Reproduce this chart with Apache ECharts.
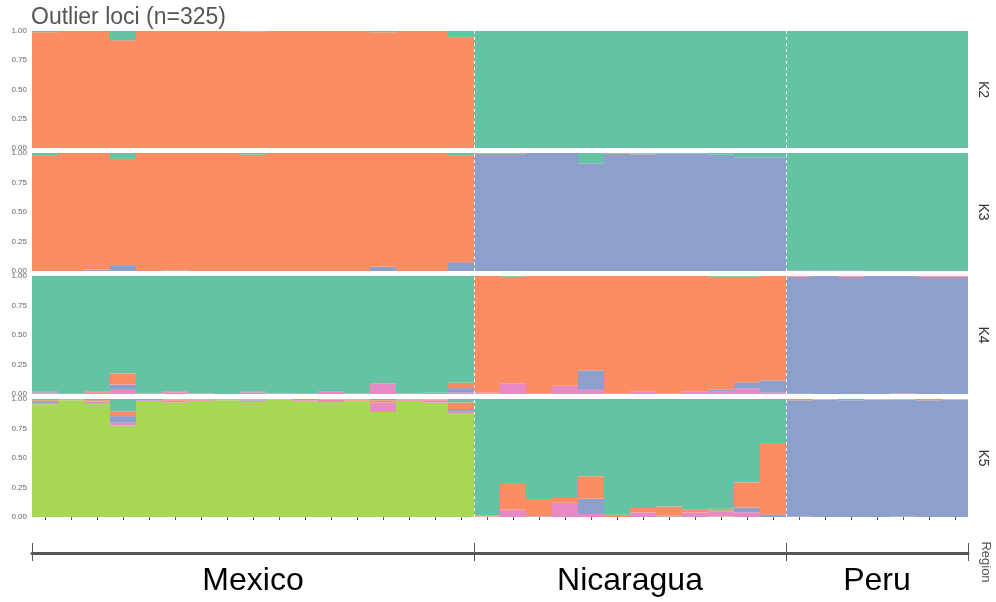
<!DOCTYPE html>
<html>
<head>
<meta charset="utf-8">
<script src="https://cdn.jsdelivr.net/npm/echarts@6/dist/echarts.min.js"></script>
<style>
  html, body { margin: 0; padding: 0; background: #ffffff; }
  #chart { width: 996px; height: 602px; }
</style>
</head>
<body>
<div id="chart"></div>
<script>
// Individuals, ordered by region
const samples = [
  'MX01','MX02','MX03','MX04','MX05','MX06','MX07','MX08','MX09','MX10','MX11','MX12','MX13','MX14','MX15','MX16','MX17',
  'NI01','NI02','NI03','NI04','NI05','NI06','NI07','NI08','NI09','NI10','NI11','NI12',
  'PE01','PE02','PE03','PE04','PE05','PE06','PE07'
];
const regions = ['Mexico', 'Nicaragua', 'Peru'];
const regionSizes = [17, 12, 7];
const yTicks = [0, 0.25, 0.5, 0.75, 1];

// Ancestry proportions (Q) per cluster; groups: Mexico | Nicaragua | Peru
const K2_cl1 = [0.01,0,0,0.08,0,0,0,0,0.005,0,0,0,0,0.01,0,0,0.05,  1,1,1,1,1,1,1,1,1,1,1,1,  1,1,1,1,1,1,1];
const K2_cl2 = [0.99,1,1,0.92,1,1,1,1,0.995,1,1,1,1,0.99,1,1,0.95,  0,0,0,0,0,0,0,0,0,0,0,0,  0,0,0,0,0,0,0];

const K3_cl1 = [0.02,0,0,0.05,0,0,0,0,0.015,0,0,0,0,0,0,0,0.02,  0,0,0,0,0.09,0,0.005,0.005,0.005,0.015,0.035,0.035,  0.995,0.995,0.995,1,1,1,1];
const K3_cl2 = [0.98,1,0.99,0.9,1,0.995,1,1,0.985,1,1,1,1,0.965,1,1,0.905,  0.005,0.005,0,0,0,0.005,0.005,0,0,0,0,0,  0,0,0,0,0,0,0];
const K3_cl3 = [0,0,0.01,0.05,0,0.005,0,0,0,0,0,0,0,0.035,0,0,0.075,  0.995,0.995,1,1,0.91,0.995,0.99,0.995,0.995,0.985,0.965,0.965,  0.005,0.005,0.005,0,0,0,0];

const K4_cl1 = [0.98,0.997,0.98,0.825,0.995,0.98,0.995,1,0.98,0.995,0.995,0.98,0.995,0.91,0.995,0.99,0.905,  0,0.005,0,0,0,0,0,0,0,0.005,0.005,0,  0,0,0,0,0,0,0];
const K4_cl2 = [0.005,0,0.01,0.095,0,0.005,0,0,0.005,0,0,0,0,0.005,0,0,0.045,  0.99,0.905,0.995,0.93,0.8,0.995,0.98,0.995,0.98,0.955,0.895,0.885,  0.005,0,0.005,0,0,0.005,0.005];
const K4_cl3 = [0.01,0,0,0.045,0,0,0,0,0.005,0,0,0,0,0,0,0,0.035,  0.005,0,0,0,0.165,0,0,0,0,0.015,0.055,0.1,  0.992,1,0.995,1,0.995,0.995,0.995];
const K4_cl4 = [0.005,0.003,0.01,0.035,0.005,0.015,0.005,0,0.01,0.005,0.005,0.02,0.005,0.085,0.005,0.01,0.015,  0.005,0.09,0.005,0.07,0.035,0.005,0.02,0.005,0.02,0.025,0.045,0.015,  0.003,0,0,0,0.005,0,0];

const K5_cl1 = [0.01,0,0.01,0.108,0,0.004,0.005,0.005,0.004,0.002,0,0.003,0.005,0.011,0.005,0.005,0.029,  0.984,0.712,0.847,0.83,0.655,0.98,0.924,0.912,0.938,0.93,0.706,0.373,  0,0.003,0.01,0.003,0.003,0,0.003];
const K5_cl2 = [0.015,0,0.01,0.037,0,0.01,0.005,0,0.005,0,0.01,0.005,0.007,0.017,0.005,0.006,0.056,  0.008,0.226,0.148,0.049,0.19,0.02,0.036,0.078,0.025,0.014,0.214,0.607,  0.011,0.003,0,0.003,0.003,0.011,0.003];
const K5_cl3 = [0.01,0.005,0,0.056,0.01,0,0,0,0.005,0,0,0,0,0,0,0,0.017,  0,0,0.005,0,0.13,0,0,0.005,0,0.011,0.04,0.02,  0.984,0.994,0.99,0.994,0.989,0.989,0.994];
const K5_cl4 = [0.01,0.005,0.014,0.025,0.007,0.014,0.007,0.005,0.011,0.003,0.01,0.017,0.005,0.082,0.007,0.02,0.017,  0.005,0.062,0,0.121,0.025,0,0.04,0.005,0.037,0.04,0.04,0,  0.005,0,0,0,0.005,0,0];
const K5_cl5 = [0.955,0.99,0.966,0.774,0.983,0.972,0.983,0.99,0.975,0.995,0.98,0.975,0.983,0.89,0.983,0.969,0.881,  0.003,0,0,0,0,0,0,0,0,0.005,0,0,  0,0,0,0,0,0,0];

const clusterColors = ['#66C2A5', '#FC8D62', '#8DA0CB', '#E78AC3', '#A6D854'];

const panels = [
  { label: 'K2', clusters: [K2_cl1, K2_cl2] },
  { label: 'K3', clusters: [K3_cl1, K3_cl2, K3_cl3] },
  { label: 'K4', clusters: [K4_cl1, K4_cl2, K4_cl3, K4_cl4] },
  { label: 'K5', clusters: [K5_cl1, K5_cl2, K5_cl3, K5_cl4, K5_cl5] }
];

// Layout of the facet panels
const plotLeft = 32, plotWidth = 936;
const panelTops = [31, 153, 276, 399];
const panelHeights = [117, 118, 118, 118];

// Region boundaries and label positions (in individual units)
const regionEdges = [0];
regionSizes.forEach(n => regionEdges.push(regionEdges[regionEdges.length - 1] + n));
const regionMids = regions.map((r, i) => (regionEdges[i] + regionEdges[i + 1]) / 2);
const nTotal = samples.length;

const FONT = 'Liberation Sans, Arial, Helvetica, sans-serif';

const grids = [], xAxes = [], yAxes = [], series = [];
const P = panels.length;

panels.forEach((panel, p) => {
  grids.push({ left: plotLeft, width: plotWidth, top: panelTops[p], height: panelHeights[p], containLabel: false, outerBoundsMode: 'none' });
});
// region axis grid
grids.push({ left: plotLeft, width: plotWidth, top: 540, height: 13, containLabel: false, outerBoundsMode: 'none' });

// category axes for bars
panels.forEach((panel, p) => {
  const isLast = p === P - 1;
  xAxes.push({
    type: 'category', gridIndex: p, data: samples,
    axisLine: { show: false },
    axisLabel: { show: false },
    axisTick: { show: isLast, alignWithLabel: true, interval: 0, length: 3, lineStyle: { color: '#555', width: 1 } },
    splitLine: { show: false }
  });
});
// numeric axes used for the region separators
panels.forEach((panel, p) => {
  xAxes.push({ type: 'value', gridIndex: p, min: 0, max: nTotal, show: false });
});
// region axis (line, ticks and labels)
xAxes.push({
  type: 'value', gridIndex: P, min: 0, max: nTotal, position: 'bottom',
  axisLine: { show: true, onZero: false, lineStyle: { color: '#555', width: 3 } },
  axisTick: { show: true, customValues: regionEdges, length: 8, lineStyle: { color: '#555', width: 1 } },
  axisLabel: {
    show: true, customValues: regionMids, margin: 12,
    fontSize: 32, color: '#000', fontFamily: FONT,
    formatter: v => regions[regionMids.indexOf(v)] || ''
  },
  splitLine: { show: false }
});
xAxes.push({
  type: 'value', gridIndex: P, min: 0, max: nTotal, position: 'bottom',
  axisLine: { show: false, onZero: false },
  axisTick: { show: true, inside: true, customValues: regionEdges, length: 10, lineStyle: { color: '#555', width: 1 } },
  axisLabel: { show: false },
  splitLine: { show: false }
});

// y axes: proportion on the left, facet strip label on the right
panels.forEach((panel, p) => {
  yAxes.push({
    type: 'value', gridIndex: p, min: 0, max: 1, interval: 0.25,
    axisLine: { show: false }, axisTick: { show: false }, splitLine: { show: false },
    axisLabel: { fontSize: 8, color: '#666', margin: 5, fontFamily: FONT, formatter: v => v.toFixed(2) }
  });
});
panels.forEach((panel, p) => {
  yAxes.push({
    type: 'value', gridIndex: p, min: 0, max: 1, position: 'right',
    axisLine: { show: false }, axisTick: { show: false }, axisLabel: { show: false }, splitLine: { show: false },
    name: panel.label, nameLocation: 'middle', nameRotate: -90, nameGap: 8,
    nameTextStyle: { fontSize: 14, color: '#333', fontFamily: FONT }
  });
});
yAxes.push({ type: 'value', gridIndex: P, min: 0, max: 1, show: false });

// stacked bars: highest cluster index at the bottom
panels.forEach((panel, p) => {
  for (let c = panel.clusters.length - 1; c >= 0; c--) {
    series.push({
      type: 'bar', name: panel.label + '_cl' + (c + 1),
      xAxisIndex: p, yAxisIndex: p, stack: panel.label,
      data: panel.clusters[c],
      barWidth: '100%', barCategoryGap: '0%',
      itemStyle: { color: clusterColors[c], borderWidth: 0 },
      silent: true, animation: false
    });
  }
  // dashed separators between regions
  series.push({
    type: 'line', xAxisIndex: P + p, yAxisIndex: p, data: [[0, 0]],
    showSymbol: false, symbolSize: 0, lineStyle: { opacity: 0 }, z: 5, silent: true, animation: false,
    markLine: {
      silent: true, symbol: ['none', 'none'], animation: false,
      label: { show: false },
      lineStyle: { color: '#ffffff', type: [3, 3], width: 1, opacity: 1 },
      data: regionEdges.slice(1, -1).map(e => ({ xAxis: e }))
    }
  });
});

const chart = echarts.init(document.getElementById('chart'), null, { renderer: 'canvas' });
chart.setOption({
  animation: false,
  backgroundColor: '#ffffff',
  textStyle: { fontFamily: FONT },
  title: {
    text: 'Outlier loci (n=325)', left: 31, top: 6, padding: 0,
    textStyle: { fontSize: 23, fontWeight: 'normal', color: '#555', fontFamily: FONT }
  },
  grid: grids,
  xAxis: xAxes,
  yAxis: yAxes,
  series: series,
  graphic: [{
    type: 'text', x: 986, y: 562, rotation: -Math.PI / 2,
    style: { text: 'Region', fontSize: 13, fill: '#555', align: 'center', verticalAlign: 'middle', fontFamily: FONT }
  }]
});
</script>
</body>
</html>
